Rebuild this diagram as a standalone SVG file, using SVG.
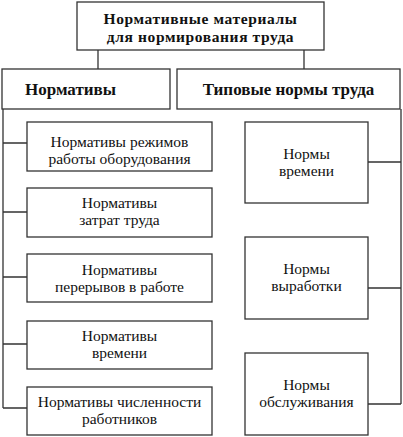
<svg xmlns="http://www.w3.org/2000/svg" width="403" height="437" viewBox="0 0 403 437">
<style>
.box{fill:#fff;stroke:#333;stroke-width:1.3}
.ln{fill:none;stroke:#333;stroke-width:1.3}
text{fill:#111;text-anchor:middle;font-family:"Liberation Serif","Times New Roman",serif}
.t{font-size:15.5px;font-weight:bold;letter-spacing:0.6px}
.h{font-size:17px;font-weight:bold}
.b{font-size:15.5px}
</style>
<rect width="403" height="437" fill="#fff"/>
<g id="connectors">
<path class="ln" d="M98,50V69M304,50V69"/>
<path class="ln" d="M3,109V408M3,143H27M3,212H27M3,277H27M3,344H27M3,408H27"/>
<path class="ln" d="M401,109V404M368,162H401M368,288H401M368,404H401"/>
</g>
<g id="root"><rect class="box" x="77" y="2" width="247" height="48"/>
<text class="t" x="200.5" y="24">Нормативные материалы</text>
<text class="t" x="200.5" y="41.5">для нормирования труда</text></g>
<g id="normativy"><rect class="box" x="2" y="69" width="168" height="40"/>
<text class="h" x="70.5" y="95">Нормативы</text></g>
<g id="tipovye"><rect class="box" x="177" y="69" width="223" height="40"/>
<text class="h" x="288.5" y="95">Типовые нормы труда</text></g>
<g id="l1"><rect class="box" x="27" y="122" width="185" height="49"/>
<text class="b" x="119.5" y="147">Нормативы режимов</text><text class="b" x="119.5" y="164">работы оборудования</text></g>
<g id="l2"><rect class="box" x="27" y="188" width="185" height="49"/>
<text class="b" x="119.5" y="208">Нормативы</text><text class="b" x="119.5" y="225">затрат труда</text></g>
<g id="l3"><rect class="box" x="27" y="254" width="185" height="48"/>
<text class="b" x="119.5" y="275">Нормативы</text><text class="b" x="119.5" y="292">перерывов в работе</text></g>
<g id="l4"><rect class="box" x="27" y="321" width="185" height="48"/>
<text class="b" x="119.5" y="341">Нормативы</text><text class="b" x="119.5" y="358">времени</text></g>
<g id="l5"><rect class="box" x="27" y="387" width="185" height="48"/>
<text class="b" x="119.5" y="407">Нормативы численности</text><text class="b" x="119.5" y="424">работников</text></g>
<g id="r1"><rect class="box" x="245" y="122" width="123" height="81"/>
<text class="b" x="306.5" y="159">Нормы</text><text class="b" x="306.5" y="176">времени</text></g>
<g id="r2"><rect class="box" x="245" y="237" width="123" height="82"/>
<text class="b" x="306.5" y="274">Нормы</text><text class="b" x="306.5" y="291">выработки</text></g>
<g id="r3"><rect class="box" x="245" y="353" width="123" height="82"/>
<text class="b" x="306.5" y="390">Нормы</text><text class="b" x="306.5" y="407">обслуживания</text></g>
</svg>
